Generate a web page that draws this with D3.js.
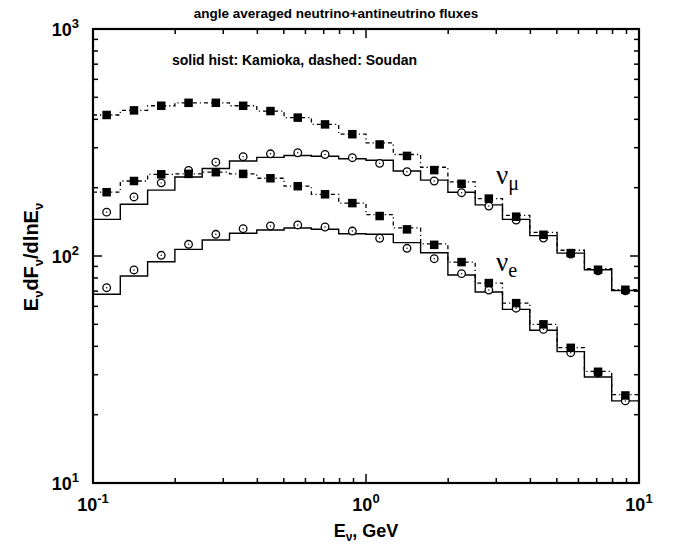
<!DOCTYPE html>
<html><head><meta charset="utf-8">
<script src="https://cdn.jsdelivr.net/npm/d3@7"></script>
<style>
html,body{margin:0;padding:0;background:#fff;}
svg text{font-family:"Liberation Sans",Arial,Helvetica,sans-serif;font-weight:bold;}
</style></head>
<body>
<svg id="c" width="673" height="546"></svg>
<script>
// bin edges and centres (GeV)
const binEdges = [0.1,0.1259,0.1585,0.1995,0.2512,0.3162,0.3981,0.5012,0.631,0.7943,1,1.259,1.585,1.995,2.512,3.162,3.981,5.012,6.31,7.943,10];
const binCenters = [0.1122,0.1413,0.1778,0.2239,0.2818,0.3548,0.4467,0.5623,0.7079,0.8913,1.122,1.413,1.778,2.239,2.818,3.548,4.467,5.623,7.079,8.913];
// solid histograms (Kamioka)
const kamNuMuHist = [145,169,195,223,243,262,272,277,275,268,264,237,216,191,168,145,123,103,87,70.5];
const kamNuEHist  = [67.8,81.7,94.4,107,117.6,125.9,130.2,132.8,131.1,125.4,124.6,114.5,103.4,82.5,69.4,58.2,47.1,37.9,29.3,23.0];
// dashed histograms (Soudan)
const souNuMuHist = [418,438,459,473,473,459,435,407,380,344,315,280,246,212,179,151,127,106,88,71];
const souNuEHist  = [191,214,229,230,234,230,220,203,187,171,152,133,113,94,76,62,50,39.5,31,24.5];
// markers: open circles (Kamioka), filled squares (Soudan)
const circNuMu = [156,182,210,238,259,274,282,285,280,271,256,235,214,190,166,144,120,102,86,70.3];
const circNuE  = [72.5,86.8,100.7,112.6,124.6,131.9,135.6,137,134.2,128.8,119.7,108.1,97.3,83.6,70.8,58.9,47.5,37.5,30.6,23.0];
const sqNuMu   = [418,438,459,473,473,459,435,407,380,344,310,276,239,208,179,149,124,103,87,71];
const sqNuE    = [191,214,229,230,234,230,220,203,187,171,150,131,112,94,76,62,50,39.4,30.9,24.3];
const xTicksMajor = [0.1,1,10];
const yTicksMajor = [10,100,1000];

const L=93,R=639,T=29,B=483;
const x=d3.scaleLog().domain([0.1,10]).range([L,R]);
const y=d3.scaleLog().domain([10,1000]).range([B,T]);
const svg=d3.select("#c");

function minors(lo,hi){const a=[];for(let d=lo;d<hi;d*=10)for(let k=2;k<=9;k++)a.push(d*k);return a;}
const g=svg.append("g").attr("stroke","#000").attr("stroke-width",1.5);
const maj=9,mn=5;
[...xTicksMajor.map(v=>[v,maj]),...minors(0.1,10).map(v=>[v,mn])].forEach(([v,l])=>{
  g.append("line").attr("x1",x(v)).attr("x2",x(v)).attr("y1",B).attr("y2",B-l);
  g.append("line").attr("x1",x(v)).attr("x2",x(v)).attr("y1",T).attr("y2",T+l);
});
[...yTicksMajor.map(v=>[v,maj]),...minors(10,1000).map(v=>[v,mn])].forEach(([v,l])=>{
  g.append("line").attr("y1",y(v)).attr("y2",y(v)).attr("x1",L).attr("x2",L+l);
  g.append("line").attr("y1",y(v)).attr("y2",y(v)).attr("x1",R).attr("x2",R-l);
});

function hist(vals){
  const pts=vals.map((v,i)=>[binEdges[i],v]);pts.push([binEdges[vals.length],vals[vals.length-1]]);
  return d3.line().x(d=>x(d[0])).y(d=>y(d[1])).curve(d3.curveStepAfter)(pts);
}
[kamNuMuHist,kamNuEHist].forEach(v=>svg.append("path").attr("d",hist(v)).attr("fill","none").attr("stroke","#000").attr("stroke-width",1.4));
[souNuMuHist,souNuEHist].forEach(v=>svg.append("path").attr("d",hist(v)).attr("fill","none").attr("stroke","#000").attr("stroke-width",1.3).attr("stroke-dasharray","4,3,1.2,3"));

[circNuMu,circNuE].forEach(arr=>{
  arr.forEach((v,i)=>{
    svg.append("circle").attr("cx",x(binCenters[i])).attr("cy",y(v)).attr("r",3.8).attr("fill","#fff").attr("stroke","#000").attr("stroke-width",1.3);
    svg.append("circle").attr("cx",x(binCenters[i])).attr("cy",y(v)).attr("r",0.7).attr("fill","#000");
  });
});
const s=8.5;
[sqNuMu,sqNuE].forEach(arr=>{
  arr.forEach((v,i)=>{
    svg.append("rect").attr("x",x(binCenters[i])-s/2).attr("y",y(v)-s/2).attr("width",s).attr("height",s).attr("fill","#000");
  });
});

svg.append("rect").attr("x",L).attr("y",T).attr("width",R-L).attr("height",B-T).attr("fill","none").attr("stroke","#000").attr("stroke-width",2.2);

const yExp={10:"1",100:"2",1000:"3"};
yTicksMajor.forEach(v=>{
  const t=svg.append("text").attr("x",L-14).attr("y",y(v)+7).attr("text-anchor","end").attr("font-size",18);
  t.append("tspan").text("10");
  t.append("tspan").attr("dy",-8).attr("font-size",13).text(yExp[v]);
});
const xExp={0.1:"-1",1:"0",10:"1"};
xTicksMajor.forEach(v=>{
  const t=svg.append("text").attr("x",x(v)).attr("y",511).attr("text-anchor","middle").attr("font-size",18);
  t.append("tspan").text("10");
  t.append("tspan").attr("dy",-8).attr("font-size",13).text(xExp[v]);
});

svg.append("text").attr("x",336).attr("y",18).attr("text-anchor","middle").attr("font-size",13.5).text("angle averaged neutrino+antineutrino fluxes");
svg.append("text").attr("x",172).attr("y",65).attr("font-size",14).text("solid hist: Kamioka, dashed: Soudan");

const xt=svg.append("text").attr("x",366).attr("y",537).attr("text-anchor","middle").attr("font-size",18);
xt.append("tspan").text("E");
xt.append("tspan").attr("dy",4).attr("font-size",12).text("ν");
xt.append("tspan").attr("dy",-4).text(", GeV");

const yt=svg.append("text").attr("transform","translate(38,257) rotate(-90)").attr("text-anchor","middle").attr("font-size",20);
yt.append("tspan").text("E");
yt.append("tspan").attr("dy",5).attr("font-size",13).text("ν");
yt.append("tspan").attr("dy",-5).text("dF");
yt.append("tspan").attr("dy",5).attr("font-size",13).text("ν");
yt.append("tspan").attr("dy",-5).text("/dlnE");
yt.append("tspan").attr("dy",5).attr("font-size",13).text("ν");

function nuLabel(px,py,sub){
  const t=svg.append("text").attr("x",px).attr("y",py).style("font-family","'Liberation Serif','Times New Roman',serif").style("font-weight","normal").attr("font-size",27);
  t.append("tspan").text("ν");
  t.append("tspan").attr("dy",6).attr("font-size",20).text(sub);
}
nuLabel(496,184,"μ");
nuLabel(496,271,"e");
</script>
</body></html>
